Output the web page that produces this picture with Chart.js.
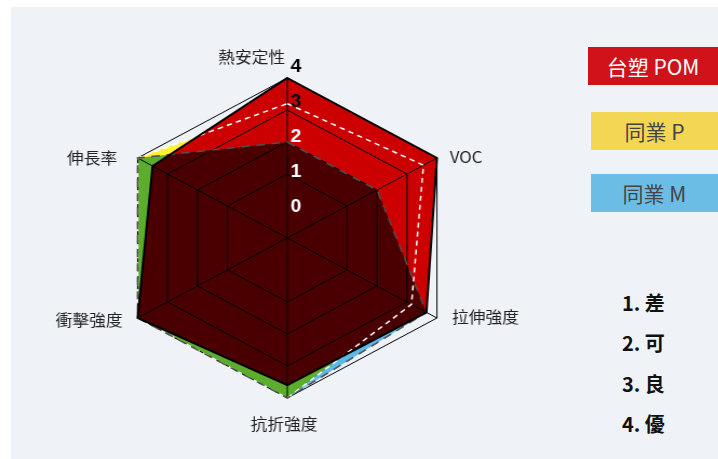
<!DOCTYPE html>
<html><head><meta charset="utf-8">
<script src="https://cdn.jsdelivr.net/npm/chart.js@4"></script>
<style>
html,body{margin:0;padding:0;background:#fff;width:718px;height:459px;overflow:hidden;}
#panel{position:absolute;left:11px;top:7px;width:707px;height:452px;background:#eff3f8;}
#c{position:absolute;left:0;top:0;}
.lg{position:absolute;height:38px;line-height:38px;text-align:center;font-family:"Noto Sans CJK TC";font-size:21px;white-space:nowrap;}
.rt{position:absolute;left:622px;height:40px;line-height:40px;font-family:"Noto Sans CJK TC";font-weight:bold;font-size:20px;color:#111;white-space:nowrap;}
</style></head><body>
<div id="panel"></div>
<canvas id="c" width="500" height="459" style="width:540px;height:459px"></canvas>
<div id="legend"></div>
<script>
// ---- data ----
const categories = ['熱安定性', 'VOC', '拉伸強度', '抗折強度', '衝擊強度', '伸長率'];
const seriesNames = ['台塑 POM', '同業 P', '同業 M'];
const pomValues = [4, 4, 3.65, 3.6, 4, 3.5];
const pValues = [3.2, 3.55, 3.15, 4, 4, 4];
const mValues = [2, 2, 3.65, 4, 4, 4];
const tickValues = [0, 1, 2, 3, 4];
const ratingLabels = ['1. 差', '2. 可', '3. 良', '4. 優'];

// ---- styles ----
const fillColors = ['#cc0000', '#fff032', '#5cb8e8'];
const legendColors = ['#d0121b', '#f2d654', '#6bbde6'];
const legendText = ['#ffffff', '#444444', '#444444'];
const legendBoxes = [[588, 47, 130], [591, 112, 127], [591, 174, 127]];
const ratingTops = [283, 323, 364, 404];
// point-label placement: [dx, dy, align] relative to each axis end
const labelPlace = [[-33, -21, 'center'], [12, -1, 'left'], [14, -1, 'left'], [-3, 26, 'center'], [-14, 2, 'right'], [-19, 0, 'right']];

const lg = document.getElementById('legend');
seriesNames.forEach((n, i) => {
  const d = document.createElement('div');
  d.className = 'lg';
  d.textContent = n;
  d.style.left = legendBoxes[i][0] + 'px';
  d.style.top = legendBoxes[i][1] + 'px';
  d.style.width = legendBoxes[i][2] + 'px';
  d.style.background = legendColors[i];
  d.style.color = legendText[i];
  lg.appendChild(d);
});
ratingLabels.forEach((t, i) => {
  const d = document.createElement('div');
  d.className = 'rt';
  d.textContent = t;
  d.style.top = ratingTops[i] + 'px';
  lg.appendChild(d);
});

// fills are blended with "multiply" so overlaps darken like the original
const blendPlugin = {
  id: 'blend',
  beforeRender(chart) { chart.ctx.globalCompositeOperation = 'multiply'; },
  beforeDraw(chart) { chart.ctx.globalCompositeOperation = 'source-over'; }
};

const PL_FONT = 15.5, PL_LH = 18.6;

new Chart(document.getElementById('c'), {
  type: 'radar',
  data: {
    labels: categories,
    datasets: [
      { label: seriesNames[0], data: pomValues, backgroundColor: fillColors[0], borderColor: '#000', borderWidth: 2, fill: 'start', pointRadius: 0, order: 0 },
      { label: seriesNames[1], data: pValues, backgroundColor: fillColors[1], borderColor: '#ffffff', borderWidth: 1.5, borderDash: [5, 4], fill: 'start', pointRadius: 0, order: 2 },
      { label: seriesNames[2], data: mValues, backgroundColor: fillColors[2], borderColor: '#505050', borderWidth: 1.5, borderDash: [8, 6], fill: 'start', pointRadius: 0, order: 1 }
    ]
  },
  options: {
    responsive: false,
    animation: false,
    layout: { padding: { left: 46, right: 14, top: 37, bottom: 16 } },
    plugins: {
      legend: { display: false },
      title: { display: false },
      tooltip: { enabled: false },
      filler: { drawTime: 'beforeDraw' }
    },
    elements: { line: { tension: 0 } },
    scales: {
      r: {
        min: -1, max: 4,
        afterFit(scale) {
          scale.xCenter = 266;
          scale.yCenter = 238;
          scale.drawingArea = 160;
          const items = scale._pointLabelItems || [];
          items.forEach((it, i) => {
            const p = scale.getPointPosition(i, scale.drawingArea);
            const [dx, dy, align] = labelPlace[i];
            const ctx = scale.ctx;
            ctx.font = PL_FONT + 'px "Noto Sans CJK TC"';
            const w = ctx.measureText(scale._pointLabels[i]).width;
            it.x = p.x + dx;
            it.y = p.y + dy - PL_LH / 2;
            it.textAlign = align;
            it.left = align === 'left' ? it.x : align === 'right' ? it.x - w : it.x - w / 2;
            it.right = it.left + w;
            it.top = it.y;
            it.bottom = it.y + PL_LH;
            it.visible = true;
          });
        },
        ticks: { stepSize: 1, display: false },
        grid: { color: ctx => (ctx.tick && ctx.tick.value <= 0) ? 'rgba(0,0,0,0)' : '#000', lineWidth: 1 },
        angleLines: { color: '#000', lineWidth: 1 },
        pointLabels: {
          font: { family: 'Noto Sans CJK TC', size: PL_FONT, lineHeight: PL_LH + 'px' },
          color: '#222',
          padding: 13
        }
      },
      // value labels of the original sit on a slightly wider spacing than its rings
      rLabels: {
        type: 'radialLinear',
        min: -1, max: 4,
        afterFit(scale) {
          scale.xCenter = 274;
          scale.yCenter = 242;
          scale.drawingArea = 175;
        },
        grid: { display: false },
        angleLines: { display: false },
        pointLabels: { display: false },
        ticks: {
          z: 1,
          stepSize: 1,
          showLabelBackdrop: false,
          color: ctx => ctx.tick.value >= 3 ? '#000' : '#fff',
          font: { family: 'Liberation Sans', size: 18, weight: 'bold' },
          callback: v => tickValues.includes(v) ? String(v) : ''
        }
      }
    }
  },
  plugins: [blendPlugin]
});
</script>
</body></html>
